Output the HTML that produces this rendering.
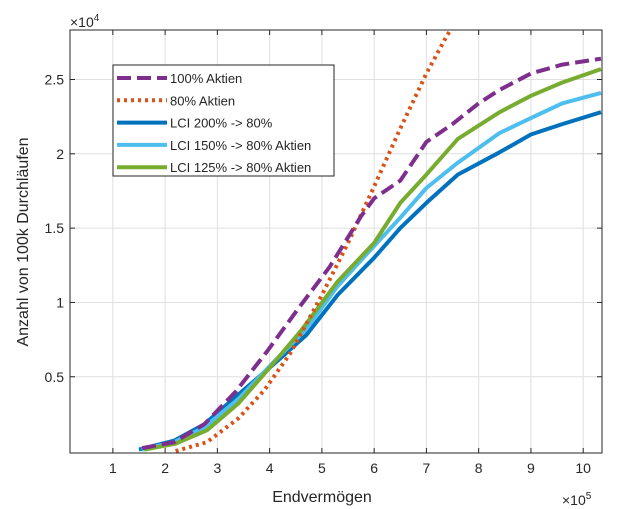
<!DOCTYPE html>
<html><head><meta charset="utf-8"><style>
body{margin:0;background:#fff;}
svg{display:block;font-family:"Liberation Sans","DejaVu Sans",sans-serif;}
</style></head><body>
<svg id="chart" width="628" height="509" viewBox="0 0 628 509" xmlns="http://www.w3.org/2000/svg">
<rect x="0" y="0" width="628" height="509" fill="#fff"/>
<g id="grid"></g>
<g id="series"></g>
<rect x="70" y="30" width="532" height="423" fill="none" stroke="#262626" stroke-width="1"/>
<g id="ticks" font-size="14" fill="#262626"></g>
<text x="70" y="27" font-size="14" fill="#262626">×10<tspan font-size="10" dy="-6">4</tspan></text>
<text x="562" y="505" font-size="14" fill="#262626">×10<tspan font-size="10" dy="-6">5</tspan></text>
<text x="322" y="502" font-size="16" text-anchor="middle" fill="#262626">Endvermögen</text>
<text x="0" y="0" font-size="16" text-anchor="middle" fill="#262626" transform="translate(28,242) rotate(-90)">Anzahl von 100k Durchläufen</text>
<g id="legend"></g>
</svg>
<script>
const xTicks=[1,2,3,4,5,6,7,8,9,10];
const yTicks=[0.5,1,1.5,2,2.5];
const yTickLabels=["0.5","1","1.5","2","2.5"];
const seriesNames=["100% Aktien","80% Aktien","LCI 200% -> 80%","LCI 150% -> 80% Aktien","LCI 125% -> 80% Aktien"];
const x100=[1.56,2.17,2.75,3.35,3.95,4.55,5.15,5.75,6.0,6.5,7.0,7.5,8.0,8.4,9.0,9.6,10.34];
const y100=[0.02,0.06,0.18,0.40,0.67,0.96,1.24,1.58,1.70,1.82,2.08,2.20,2.34,2.43,2.54,2.60,2.64];
const x80=[2.2,2.8,3.4,3.9,4.4,5.0,5.5,6.0,6.5,7.0,7.4,7.6];
const y80=[0.0,0.06,0.22,0.41,0.66,1.05,1.40,1.78,2.17,2.54,2.80,2.90];
const x200=[1.5,2.17,2.75,3.4,4.0,4.7,5.3,6.0,6.5,7.0,7.6,8.4,9.0,9.6,10.34];
const y200=[0.01,0.07,0.18,0.38,0.56,0.78,1.05,1.30,1.50,1.67,1.86,2.01,2.13,2.20,2.28];
const x150=[1.55,2.17,2.75,3.4,4.0,4.7,5.3,6.0,6.5,7.0,7.6,8.4,9.0,9.6,10.34];
const y150=[0.01,0.06,0.16,0.35,0.57,0.82,1.11,1.38,1.57,1.77,1.94,2.14,2.24,2.34,2.41];
const x125=[1.6,2.2,2.8,3.4,4.0,4.6,5.3,6.0,6.5,7.0,7.6,8.4,9.0,9.6,10.34];
const y125=[0.01,0.05,0.14,0.32,0.56,0.81,1.14,1.40,1.67,1.86,2.10,2.28,2.39,2.48,2.57];

const NS="http://www.w3.org/2000/svg";
const L=70,R=602,T=30,B=453;
const xMin=0.18,xMax=10.36,yMin=-0.013,yMax=2.833;
function sx(v){return L+(v-xMin)/(xMax-xMin)*(R-L);}
function sy(v){return B-(v-yMin)/(yMax-yMin)*(B-T);}
function mk(tag,attrs,parent){const e=document.createElementNS(NS,tag);for(const k in attrs)e.setAttribute(k,attrs[k]);parent.appendChild(e);return e;}
const grid=document.getElementById('grid'),ticks=document.getElementById('ticks');
xTicks.forEach((t,i)=>{
  const x=sx(t);
  const g=mk('line',{x1:x,x2:x,y1:T,y2:B,stroke:'#dfdfdf','stroke-width':1},grid);
  
  
  const tk=mk('line',{x1:x,x2:x,y1:B,y2:B-5,stroke:'#262626'},grid);
  
  
  const tk2=mk('line',{x1:x,x2:x,y1:T,y2:T+5,stroke:'#262626'},grid);
  
  
  const tx=mk('text',{x:x,y:B+20,'text-anchor':'middle'},ticks);
  
  
  tx.textContent=String(t);
});
yTicks.forEach((t,i)=>{
  const y=sy(t);
  const g=mk('line',{x1:L,x2:R,y1:y,y2:y,stroke:'#dfdfdf','stroke-width':1},grid);
  
  
  const tk=mk('line',{x1:L,x2:L+5,y1:y,y2:y,stroke:'#262626'},grid);
  
  
  const tk2=mk('line',{x1:R,x2:R-5,y1:y,y2:y,stroke:'#262626'},grid);
  
  
  const tx=mk('text',{x:L-6,y:y+5,'text-anchor':'end'},ticks);
  
  
  tx.textContent=yTickLabels[i];
});
const styles=[
  {c:'#7e2f8e',d:'14 6',xs:x100,ys:y100,n:'series-100-aktien'},
  {c:'#d95319',d:'3 4',xs:x80,ys:y80,n:'series-80-aktien'},
  {c:'#0072bd',d:'',xs:x200,ys:y200,n:'series-lci-200'},
  {c:'#4dbeee',d:'',xs:x150,ys:y150,n:'series-lci-150'},
  {c:'#77ac30',d:'',xs:x125,ys:y125,n:'series-lci-125'}
];
const sg=document.getElementById('series');
mk('clipPath',{id:'clip'},sg);
mk('rect',{x:L,y:T,width:R-L,height:B-T},sg.lastChild);
const order=[2,3,4,1,0];
order.forEach(i=>{
  const s=styles[i];
  const pts=s.xs.map((v,j)=>sx(v).toFixed(1)+','+sy(s.ys[j]).toFixed(1)).join(' ');
  const a={points:pts,fill:'none',stroke:s.c,'stroke-width':4,'stroke-linejoin':'round','clip-path':'url(#clip)'};
  if(s.d)a['stroke-dasharray']=s.d;
  const p=mk('polyline',a,sg);
  
  
});
const lg=document.getElementById('legend');
const box=mk('rect',{x:113,y:65,width:221,height:111,fill:'#fff',stroke:'#262626','stroke-width':1},lg);


seriesNames.forEach((nm,i)=>{
  const s=styles[i];const y=78+i*22.3;
  const a={x1:117,x2:167,y1:y,y2:y,stroke:s.c,'stroke-width':4};
  if(s.d)a['stroke-dasharray']=s.d;
  const ln=mk('line',a,lg);
  
  
  const t=mk('text',{x:170,y:y+5,'font-size':13,fill:'#262626'},lg);
  
  
  t.textContent=nm;
});
</script>
</body></html>
